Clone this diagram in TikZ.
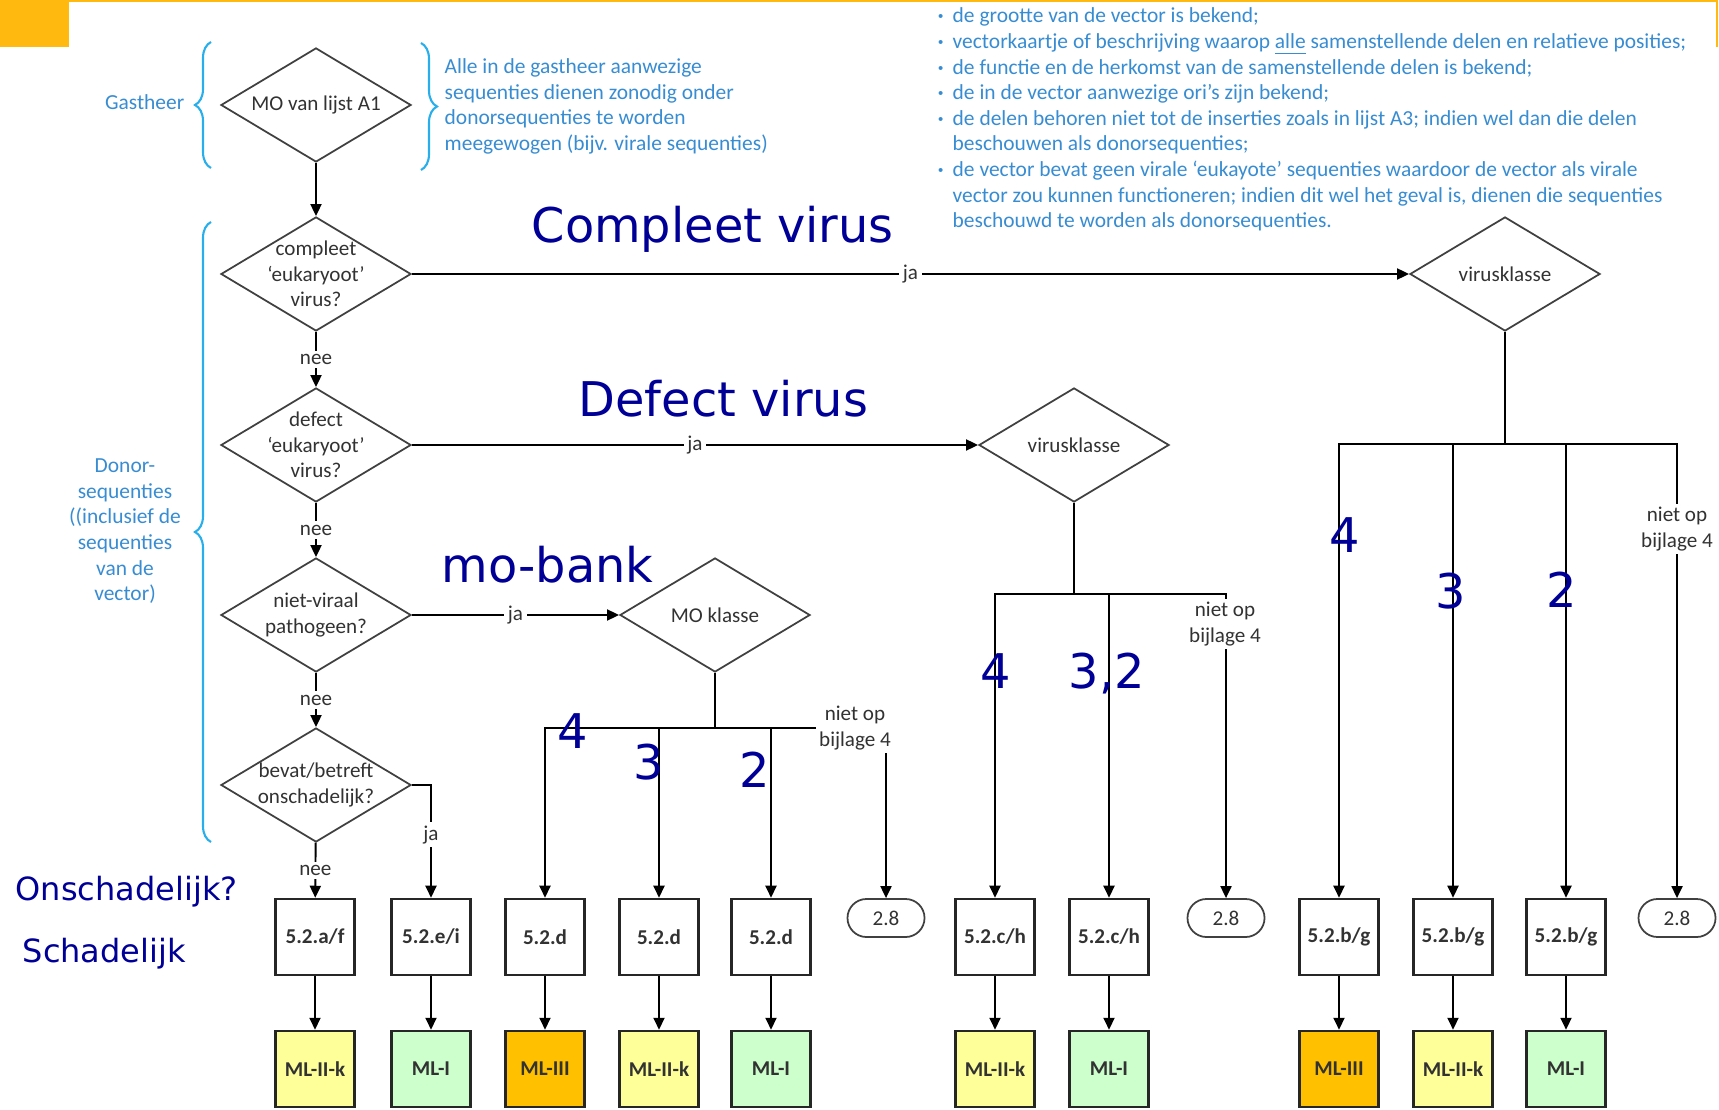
\documentclass[tikz,border=0pt]{standalone}
\usepackage{fontspec}
\setmainfont{Carlito}
\newfontfamily\headfont{DejaVu Sans}
\usetikzlibrary{shapes.geometric,arrows.meta,decorations.pathreplacing}

\definecolor{orng}{RGB}{255,185,15}
\definecolor{mlyel}{RGB}{255,255,153}
\definecolor{mlgrn}{RGB}{204,255,204}
\definecolor{mlorg}{RGB}{255,192,0}
\definecolor{headblue}{RGB}{0,0,150}
\definecolor{notecol}{RGB}{55,140,210}
\definecolor{bracecol}{RGB}{40,175,235}
\definecolor{txtgray}{RGB}{50,50,50}

\newcommand\dfont{\fontsize{6}{7.3}\selectfont}
\newcommand\nfont{\fontsize{6.1}{7.3}\selectfont}
\newcommand\bigfont{\headfont\fontsize{13.6}{16}\selectfont}
\newcommand\midfont{\headfont\fontsize{9.1}{11}\selectfont}
\newcommand\bul{\llap{\textbf{·}\hspace{0.09cm}}}
\def\nietop{niet op\\bijlage 4}

\tikzset{
  dec/.style={diamond, draw=black!75, line width=0.5pt, minimum width=1.9cm, minimum height=1.14cm, inner sep=0pt},
  dtxt/.style={align=center, font=\dfont, text=txtgray, inner sep=0pt},
  sect/.style={rectangle, draw=black!85, line width=0.7pt, minimum width=0.79cm, minimum height=0.76cm, font=\dfont\bfseries, text=txtgray, inner sep=0pt},
  ml/.style={sect, fill=#1},
  term/.style={rectangle, rounded corners=0.19cm, draw=black!75, line width=0.5pt, minimum width=0.77cm, minimum height=0.38cm, font=\dfont, text=txtgray, inner sep=0pt},
  lbl/.style={fill=white, font=\dfont, text=txtgray, inner sep=1pt},
  conn/.style={line width=0.55pt},
  arr/.style={conn, -{Triangle[length=0.12cm, width=0.11cm]}},
  big/.style={font=\bigfont, text=headblue, inner sep=0pt},
  note/.style={font=\nfont, text=notecol, inner sep=0pt},
  curly/.style={draw=bracecol, line width=0.6pt, decorate, decoration={brace, amplitude=0.16cm}}
}

\begin{document}
\begin{tikzpicture}[x=0.01cm, y=0.01cm]
    \useasboundingbox (0,0) rectangle (1719,-1110);
    \fill[orng] (0,0) rectangle (69,-47);
    \draw[orng, line width=0.6pt] (0,-0.5) -- (1717,-0.5) -- (1717,-47);

    \node[dec, label={[dtxt]center:MO van lijst A1}] (host) at (316,-105) {};
    \node[dec, label={[dtxt]center:{compleet\\‘eukaryoot’\\virus?}}] (complete) at (316,-274) {};
    \node[dec, label={[dtxt]center:{defect\\‘eukaryoot’\\virus?}}] (defect) at (316,-445) {};
    \node[dec, label={[dtxt]center:{niet-viraal\\pathogeen?}}] (pathogen) at (316,-615) {};
    \node[dec, label={[dtxt]center:{bevat/betreft\\onschadelijk?}}] (harmless) at (316,-785) {};
    \node[dec, label={[dtxt]center:virusklasse}] (vkcomplete) at (1505,-274) {};
    \node[dec, label={[dtxt]center:virusklasse}] (vkdefect) at (1074,-445) {};
    \node[dec, label={[dtxt]center:MO klasse}] (moclass) at (715,-615) {};

    \foreach \x/\s/\m/\c [count=\i] in {315/{5.2.a/f}/ML-II-k/mlyel, 431/{5.2.e/i}/ML-I/mlgrn,
        545/5.2.d/ML-III/mlorg, 659/5.2.d/ML-II-k/mlyel, 771/5.2.d/ML-I/mlgrn,
        995/{5.2.c/h}/ML-II-k/mlyel, 1109/{5.2.c/h}/ML-I/mlgrn,
        1339/{5.2.b/g}/ML-III/mlorg, 1453/{5.2.b/g}/ML-II-k/mlyel, 1566/{5.2.b/g}/ML-I/mlgrn} {
        \node[sect] (sec\i) at (\x,-937) {\s};
        \node[ml=\c] (ml\i) at (\x,-1069) {\m};
        \draw[arr] (sec\i) -- (ml\i);
    }
    \node[term] (t1) at (886,-918) {2.8};
    \node[term] (t2) at (1226,-918) {2.8};
    \node[term] (t3) at (1677,-918) {2.8};

    \draw[arr] (host) -- (complete);
    \draw[arr] (complete) -- node[lbl] {nee} (defect);
    \draw[arr] (defect) -- node[lbl] {nee} (pathogen);
    \draw[arr] (pathogen) -- node[lbl] {nee} (harmless);
    \draw[arr] (harmless) -- node[lbl] {nee} (sec1);
    \draw[arr] (harmless.east) -| node[lbl, pos=0.72] {ja} (sec2.north);
    \draw[arr] (complete) -- node[lbl] {ja} (vkcomplete);
    \draw[arr] (defect) -- node[lbl] {ja} (vkdefect);
    \draw[arr] (pathogen) -- node[lbl] {ja} (moclass);

    \coordinate (mohub) at (715,-728);
    \coordinate (vkdhub) at (1074,-594);
    \coordinate (vkchub) at (1505,-444);
    \draw[conn] (moclass) -- (mohub);
    \draw[conn] (vkdefect) -- (vkdhub);
    \draw[conn] (vkcomplete) -- (vkchub);
    \foreach \s in {sec3,sec4,sec5,t1} \draw[arr] (mohub) -| (\s.north);
    \foreach \s in {sec6,sec7,t2} \draw[arr] (vkdhub) -| (\s.north);
    \foreach \s in {sec8,sec9,sec10,t3} \draw[arr] (vkchub) -| (\s.north);
    \node[lbl, align=center] (nop1) at (855,-728) {\nietop};
    \node[lbl, align=center] (nop2) at (1225,-624) {\nietop};
    \node[lbl, align=center] (nop3) at (1677,-529) {\nietop};

    \node[big, anchor=base west] (hcompl) at (531,-243) {Compleet virus};
    \node[big, anchor=base west] (hdef) at (578,-417) {Defect virus};
    \node[big, anchor=base west] (hmo) at (441,-582) {mo-bank};
    \node[big, font=\midfont, anchor=base west] (hons) at (15,-900) {Onschadelijk?};
    \node[big, font=\midfont, anchor=base west] (hsch) at (22,-962) {Schadelijk};
    \node[big, anchor=base] (n1) at (573,-748) {4};
    \node[big, anchor=base] (n2) at (649,-779) {3};
    \node[big, anchor=base] (n3) at (755,-787) {2};
    \node[big, anchor=base] (n4) at (996,-688) {4};
    \node[big, anchor=base] (n5) at (1107,-688) {3,2};
    \node[big, anchor=base] (n6) at (1345,-552) {4};
    \node[big, anchor=base] (n7) at (1451,-608) {3};
    \node[big, anchor=base] (n8) at (1562,-607) {2};

    \draw[curly] (211,-168) -- (211,-42);
    \draw[curly] (421,-43) -- (421,-170);
    \draw[curly] (211,-842) -- (211,-222);
    \node[note, anchor=base east] (gast) at (185,-110) {Gastheer};
    \node[note, align=left, anchor=north west] (hostnote) at (444,-58)
        {Alle in de gastheer aanwezige\\sequenties dienen zonodig onder\\donorsequenties te worden\\meegewogen (bijv. virale sequenties)};
    \node[note, align=center, anchor=north] (donor) at (125,-458)
        {Donor-\\sequenties\\((inclusief de\\sequenties\\van de\\vector)};
    \foreach \t [count=\i] in {
        {\bul de grootte van de vector is bekend;},
        {\bul vectorkaartje of beschrijving waarop \underline{alle} samenstellende delen en relatieve posities;},
        {\bul de functie en de herkomst van de samenstellende delen is bekend;},
        {\bul de in de vector aanwezige ori’s zijn bekend;},
        {\bul de delen behoren niet tot de inserties zoals in lijst A3; indien wel dan die delen},
        {beschouwen als donorsequenties;},
        {\bul de vector bevat geen virale ‘eukayote’ sequenties waardoor de vector als virale},
        {vector zou kunnen functioneren; indien dit wel het geval is, dienen die sequenties},
        {beschouwd te worden als donorsequenties.}}
        \node[note, anchor=base west] (vec\i) at (952,{-23-25.6*(\i-1)}) {\t};
\end{tikzpicture}
\end{document}
